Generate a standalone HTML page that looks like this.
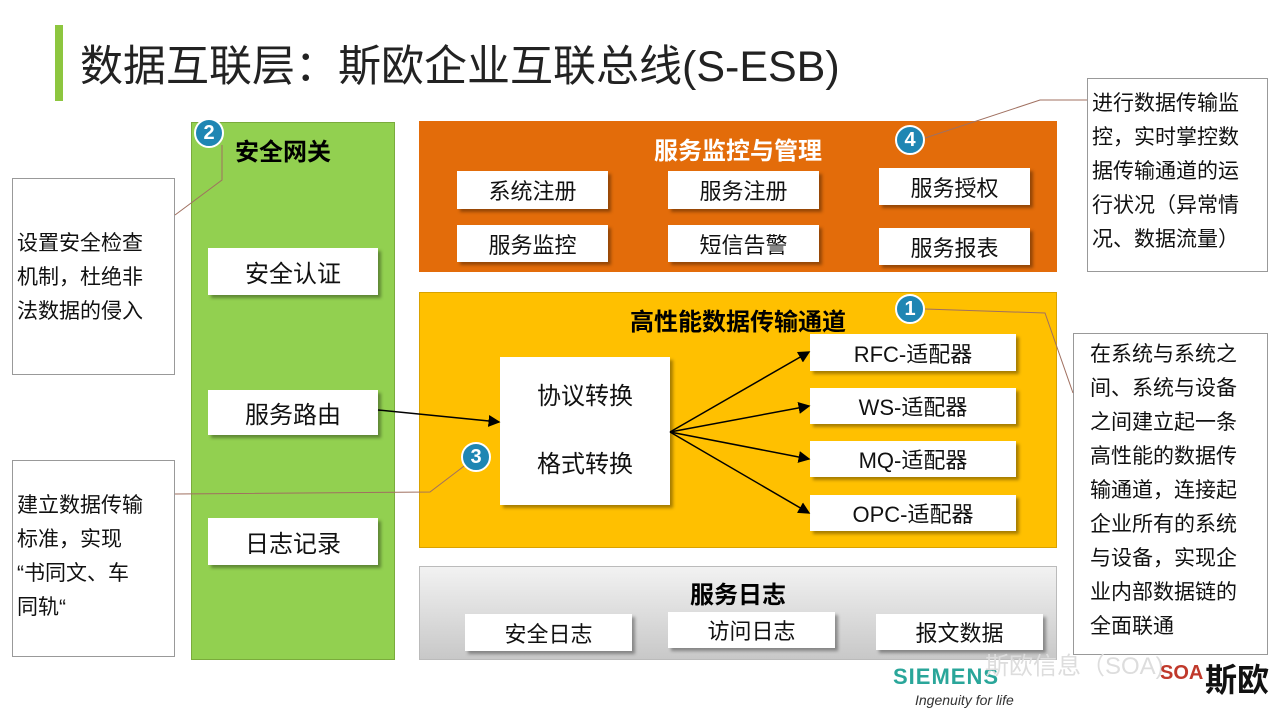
<!DOCTYPE html>
<html><head><meta charset="utf-8"><style>
body{margin:0;width:1280px;height:720px;background:#fff;position:relative;overflow:hidden;font-family:"Liberation Sans","Noto Sans CJK SC",sans-serif;}
.a{position:absolute;box-sizing:border-box}
.btn{position:absolute;box-sizing:border-box;background:#fff;box-shadow:3px 3px 3px rgba(0,0,0,.35);display:flex;align-items:center;justify-content:center;color:#111;font-size:22px}
.c{position:absolute;width:30px;height:30px;border-radius:50%;background:#1f86b3;color:#fff;font-weight:bold;font-size:20px;display:flex;align-items:center;justify-content:center;border:2px solid #fff;box-sizing:border-box}
.call{position:absolute;box-sizing:border-box;border:1px solid #999;background:#fff;font-size:21px;line-height:34px;color:#111;padding:6px 4px;white-space:nowrap}
</style></head><body>
<div class="a" style="left:55px;top:25px;width:8px;height:76px;background:#8dc63f"></div>
<div class="a" style="left:80px;top:32px;font-size:43px;color:#222;white-space:nowrap">数据互联层：斯欧企业互联总线(S-ESB)</div>

<div class="a" style="left:191px;top:122px;width:204px;height:538px;background:#92d050;border:1px solid #7aab3c"></div>
<div class="a" style="left:235px;top:132px;font-size:24px;font-weight:bold;color:#000">安全网关</div>
<div class="btn" style="left:208px;top:248px;width:170px;height:47px;font-size:24px">安全认证</div>
<div class="btn" style="left:208px;top:390px;width:170px;height:45px;font-size:24px">服务路由</div>
<div class="btn" style="left:208px;top:518px;width:170px;height:47px;font-size:24px">日志记录</div>

<div class="a" style="left:419px;top:121px;width:638px;height:151px;background:#e36c0a"></div>
<div class="a" style="left:419px;top:131px;width:638px;text-align:center;font-size:24px;font-weight:bold;color:#fff">服务监控与管理</div>
<div class="btn" style="left:457px;top:171px;width:151px;height:38px">系统注册</div>
<div class="btn" style="left:668px;top:171px;width:151px;height:38px">服务注册</div>
<div class="btn" style="left:879px;top:168px;width:151px;height:37px">服务授权</div>
<div class="btn" style="left:457px;top:225px;width:151px;height:37px">服务监控</div>
<div class="btn" style="left:668px;top:225px;width:151px;height:37px">短信告警</div>
<div class="btn" style="left:879px;top:228px;width:151px;height:37px">服务报表</div>

<div class="a" style="left:419px;top:292px;width:638px;height:256px;background:#ffc000;border:1px solid #d9a200"></div>
<div class="a" style="left:419px;top:302px;width:638px;text-align:center;font-size:24px;font-weight:bold;color:#000">高性能数据传输通道</div>
<div class="btn" style="left:500px;top:357px;width:170px;height:148px;flex-direction:column;font-size:24px;line-height:68px">协议转换<br>格式转换</div>
<div class="btn" style="left:810px;top:334px;width:206px;height:37px">RFC-适配器</div>
<div class="btn" style="left:810px;top:388px;width:206px;height:36px">WS-适配器</div>
<div class="btn" style="left:810px;top:441px;width:206px;height:36px">MQ-适配器</div>
<div class="btn" style="left:810px;top:495px;width:206px;height:36px">OPC-适配器</div>

<div class="a" style="left:419px;top:566px;width:638px;height:94px;background:linear-gradient(#f2f2f2,#c8c8c8);border:1px solid #bbb"></div>
<div class="a" style="left:419px;top:575px;width:638px;text-align:center;font-size:24px;font-weight:bold;color:#000">服务日志</div>
<div class="btn" style="left:465px;top:614px;width:167px;height:37px">安全日志</div>
<div class="btn" style="left:668px;top:612px;width:167px;height:36px">访问日志</div>
<div class="btn" style="left:876px;top:614px;width:167px;height:36px">报文数据</div>

<div class="call" style="left:12px;top:178px;width:163px;height:197px;padding-top:48px">设置安全检查<br>机制，杜绝非<br>法数据的侵入</div>
<div class="call" style="left:12px;top:460px;width:163px;height:197px;padding-top:28px">建立数据传输<br>标准，实现<br>“书同文、车<br>同轨“</div>
<div class="call" style="left:1087px;top:78px;width:181px;height:194px;padding-top:8px">进行数据传输监<br>控，实时掌控数<br>据传输通道的运<br>行状况（异常情<br>况、数据流量）</div>
<div class="call" style="left:1073px;top:333px;width:195px;height:322px;padding:4px 12px 0 16px">在系统与系统之<br>间、系统与设备<br>之间建立起一条<br>高性能的数据传<br>输通道，连接起<br>企业所有的系统<br>与设备，实现企<br>业内部数据链的<br>全面联通</div>

<svg class="a" style="left:0;top:0" width="1280" height="720">
<defs><marker id="m" markerWidth="8" markerHeight="8" refX="7" refY="4" orient="auto"><path d="M0,0L8,4L0,8z" fill="#000"/></marker></defs>
<g stroke="#000" stroke-width="1.5" fill="none" marker-end="url(#m)">
<line x1="378" y1="410" x2="499" y2="422"/>
<line x1="670" y1="432" x2="809" y2="352"/>
<line x1="670" y1="432" x2="809" y2="406"/>
<line x1="670" y1="432" x2="809" y2="459"/>
<line x1="670" y1="432" x2="809" y2="513"/>
</g>
<g stroke="#a07060" stroke-width="1" fill="none">
<polyline points="222,145 222,180 175,215"/>
<polyline points="925,138 1040,100 1087,100"/>
<polyline points="925,309 1045,313 1073,393"/>
<polyline points="476,457 430,492 175,494"/>
</g>
</svg>
<div class="c" style="left:194px;top:118px">2</div>
<div class="c" style="left:895px;top:125px">4</div>
<div class="c" style="left:895px;top:294px">1</div>
<div class="c" style="left:461px;top:442px">3</div>

<div class="a" style="left:893px;top:664px;font-size:22px;font-weight:bold;color:#2aa69a;letter-spacing:1px">SIEMENS</div>
<div class="a" style="left:915px;top:692px;font-size:14px;font-style:italic;color:#333">Ingenuity for life</div>
<div class="a" style="left:985px;top:646px;font-size:24px;color:#ddd;white-space:nowrap">斯欧信息（SOA)</div>
<div class="a" style="left:1160px;top:662px;font-size:20px;font-weight:bold;color:#c0392b">SOA</div>
<div class="a" style="left:1205px;top:655px;font-size:32px;font-weight:bold;color:#111">斯欧</div>
</body></html>
